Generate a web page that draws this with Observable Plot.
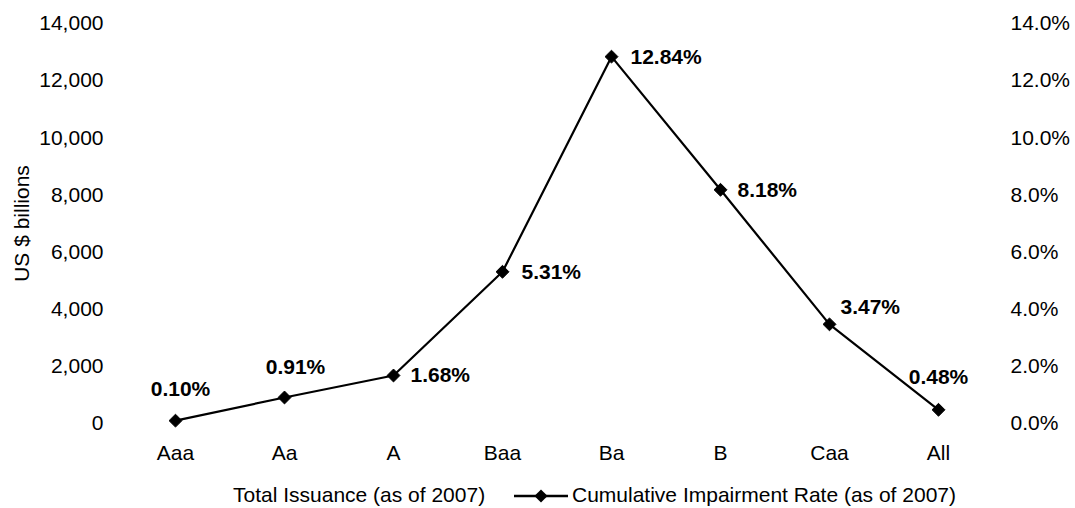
<!DOCTYPE html>
<html>
<head>
<meta charset="utf-8">
<script src="https://cdn.jsdelivr.net/npm/d3@7"></script>
<script src="https://cdn.jsdelivr.net/npm/@observablehq/plot@0.6"></script>
<style>
  html, body { margin: 0; padding: 0; background: #fff; }
  body { font-family: "Liberation Sans", Arial, sans-serif; width: 1075px; height: 508px; overflow: hidden; }
  #legend { position: relative; height: 38px; font-size: 21px; line-height: 24px; color: #000; }
  #legend span, #legend svg { position: absolute; top: 13px; white-space: nowrap; }
</style>
</head>
<body>
<div id="chart"></div>
<div id="legend"></div>
<script>
// ---- data ----
const ratings = ["Aaa", "Aa", "A", "Baa", "Ba", "B", "Caa", "All"];
const impairmentRate = [0.10, 0.91, 1.68, 5.31, 12.84, 8.18, 3.47, 0.48]; // percent
const rateLabels = ["0.10%", "0.91%", "1.68%", "5.31%", "12.84%", "8.18%", "3.47%", "0.48%"];
const issuanceTicks = [0, 2000, 4000, 6000, 8000, 10000, 12000, 14000]; // US $ billions
const rateTicks = [0, 2, 4, 6, 8, 10, 12, 14]; // percent
const seriesNames = ["Total Issuance (as of 2007)", "Cumulative Impairment Rate (as of 2007)"];
const yAxisTitle = "US $ billions";

// ---- label placement (style only) ----
const labelPlace = [
  {anchor: "middle", dx: 5,  dy: -31},
  {anchor: "middle", dx: 11, dy: -30},
  {anchor: "start",  dx: 17, dy: 0},
  {anchor: "start",  dx: 19, dy: 0},
  {anchor: "start",  dx: 19, dy: 1},
  {anchor: "start",  dx: 17, dy: 0},
  {anchor: "start",  dx: 11, dy: -17},
  {anchor: "middle", dx: 0,  dy: -33}
];

const rows = ratings.map((r, i) => ({rating: r, rate: impairmentRate[i], label: rateLabels[i]}));
const fmtIssuance = d3.format(",");
// left axis (US $ billions) shares the same vertical scale: 14,000 <-> 14.0%
const issuanceToRate = v => v * rateTicks[rateTicks.length - 1] / issuanceTicks[issuanceTicks.length - 1];

const chart = Plot.plot({
  width: 1075,
  height: 470,
  marginTop: 23,
  marginBottom: 47,
  marginLeft: 120,
  marginRight: 82,
  style: {fontFamily: '"Liberation Sans", Arial, sans-serif', fontSize: "21px", color: "#000", background: "#fff"},
  x: {type: "point", domain: ratings, padding: 0.5},
  y: {domain: [0, 14]},
  marks: [
    Plot.axisX({tickSize: 0, tickPadding: 22, label: null, fontSize: 21}),
    Plot.axisY(issuanceTicks.map(issuanceToRate), {anchor: "left", tickSize: 0, tickPadding: 17, label: null, fontSize: 21,
      tickFormat: (d, i) => fmtIssuance(issuanceTicks[i])}),
    Plot.axisY(rateTicks, {anchor: "right", tickSize: 0, tickPadding: 17, label: null, fontSize: 21,
      tickFormat: d => d.toFixed(1) + "%"}),
    Plot.text([yAxisTitle], {frameAnchor: "left", textAnchor: "middle", text: d => d, rotate: -90, dx: -98, fontSize: 21}),
    Plot.line(rows, {x: "rating", y: "rate", stroke: "#000", strokeWidth: 2.2}),
    Plot.dot(rows, {x: "rating", y: "rate", symbol: "diamond2", r: 5.8, fill: "#000", stroke: "#000", strokeWidth: 1}),
    ...rows.map((row, i) => Plot.text([row], {
      x: "rating", y: "rate", text: "label",
      textAnchor: labelPlace[i].anchor, dx: labelPlace[i].dx, dy: labelPlace[i].dy,
      fontWeight: "bold", fontSize: 21, fill: "#000"
    }))
  ]
});
document.getElementById("chart").appendChild(chart);

// ---- legend ----
const legend = document.getElementById("legend");
const s1 = document.createElement("span");
s1.textContent = seriesNames[0];
s1.style.left = "233px";
legend.appendChild(s1);
const sym = d3.create("svg").attr("width", 54).attr("height", 24).style("left", "514px");
sym.append("line").attr("x1", 0).attr("x2", 54).attr("y1", 13).attr("y2", 13).attr("stroke", "#000").attr("stroke-width", 2.5);
sym.append("path").attr("d", d3.symbol(d3.symbolDiamond2, 110)()).attr("transform", "translate(27,13)").attr("fill", "#000");
legend.appendChild(sym.node());
const s2 = document.createElement("span");
s2.textContent = seriesNames[1];
s2.style.left = "572px";
legend.appendChild(s2);
</script>
</body>
</html>
